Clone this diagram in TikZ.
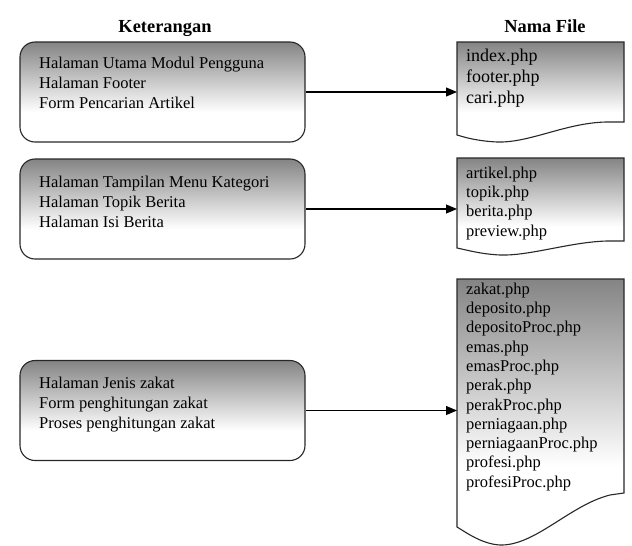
\documentclass[tikz,border=0pt]{standalone}
\usepackage{fontspec}
\setmainfont{Liberation Serif}
\usetikzlibrary{arrows.meta}
\definecolor{shadegray}{RGB}{132,132,132}
\definecolor{edgegray}{RGB}{40,40,40}
\pgfdeclareverticalshading{fadegray}{100bp}{color(0bp)=(white); color(25bp)=(white); color(40bp)=(white); color(75bp)=(shadegray); color(100bp)=(shadegray)}
\begin{document}
\begin{tikzpicture}[x=1pt,y=-1pt,
  kbox/.style={draw=edgegray, line width=1.1pt, rounded corners=15pt, shade, shading=fadegray,
    minimum width=285pt, minimum height=100pt, inner sep=0pt},
  docshape/.style={draw=edgegray, line width=1.1pt, shade, shading=fadegray},
  ktext/.style={anchor=north west, inner sep=0pt, align=left, font=\fontsize{16.5}{20}\selectfont},
  dtext/.style={anchor=north west, inner sep=0pt, align=left, font=\fontsize{16.5}{19.3}\selectfont},
  dtextbig/.style={anchor=north west, inner sep=0pt, align=left, font=\fontsize{18}{21}\selectfont},
  head/.style={anchor=base, inner sep=0pt, font=\bfseries\fontsize{18.4}{22}\selectfont},
  arrow/.style={line width=1.2pt, draw=black, -{Triangle[length=11pt,width=9pt]}}]
\useasboundingbox (0,0) rectangle (632,546);

% headers
\node[head] (hk) at (165,32) {Keterangan};
\node[head] (hn) at (545,32) {Nama File};

% left boxes
\node[kbox] (k1) at (162.5,92) {};
\node[kbox] (k2) at (162.5,209) {};
\node[kbox] (k3) at (162.5,410.5) {};
\node[ktext] (t1) at (39,56.6) {Halaman Utama Modul Pengguna\\Halaman Footer\\Form Pencarian Artikel};
\node[ktext] (t2) at (39,175.6) {Halaman Tampilan Menu Kategori\\Halaman Topik Berita\\Halaman Isi Berita};
\node[ktext] (t3) at (39,376.6) {Halaman Jenis zakat\\Form penghitungan zakat\\Proses penghitungan zakat};

% documents
\path[docshape] (457,42) -- (624,42) -- (624,122) -- (606,122)
  .. controls (565,123) and (530,143) .. (497,142)
  .. controls (478,141) and (467,138) .. (457,135) -- cycle;
\path[docshape] (457,158) -- (624,158) -- (624,241) -- (607,241)
  .. controls (570,242) and (530,256) .. (500,255)
  .. controls (480,254) and (467,250) .. (457,248) -- cycle;
\path[docshape] (457,279) -- (624,279) -- (624,493) -- (610,495)
  .. controls (570,505) and (535,546) .. (500,545)
  .. controls (482,544) and (467,533) .. (457,527) -- cycle;
\coordinate (d1) at (457,92);
\coordinate (d2) at (457,209);
\coordinate (d3) at (457,410.5);

\node[dtextbig] (f1) at (466,49) {index.php\\footer.php\\cari.php};
\node[dtext] (f2) at (466,166.6) {artikel.php\\topik.php\\berita.php\\preview.php};
\node[dtext] (f3) at (466,282.6) {zakat.php\\deposito.php\\depositoProc.php\\emas.php\\emasProc.php\\perak.php\\perakProc.php\\perniagaan.php\\perniagaanProc.php\\profesi.php\\profesiProc.php};

% arrows
\draw[arrow] (k1.east) -- (d1);
\draw[arrow] (k2.east) -- (d2);
\draw[arrow] (k3.east) -- (d3);
\end{tikzpicture}
\end{document}
